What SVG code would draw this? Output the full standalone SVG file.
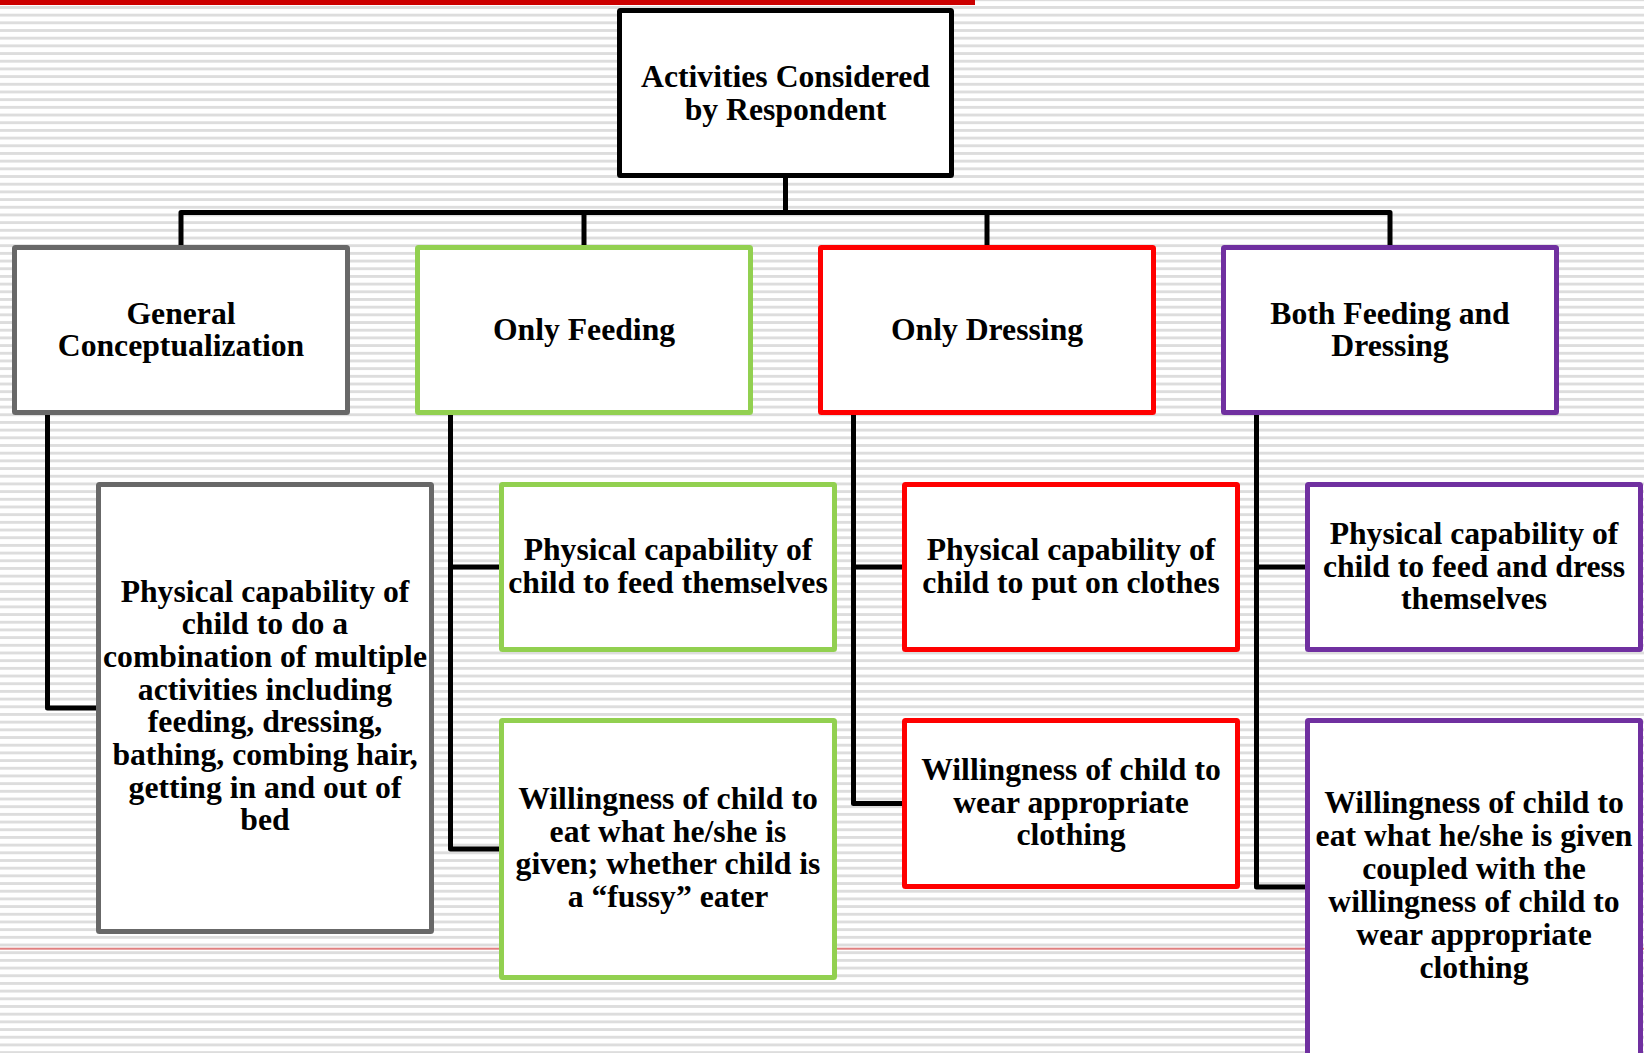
<svg xmlns="http://www.w3.org/2000/svg" width="1644" height="1053" viewBox="0 0 1644 1053">
<defs>
<pattern id="stripes" patternUnits="userSpaceOnUse" x="0" y="6" width="20" height="7.685">
<rect x="0" y="0" width="20" height="2.9" fill="#DDDDDD"/>
</pattern>
<style>
.box{fill:#FFFFFF;stroke-width:5;stroke-linejoin:round}
.gray{stroke:#686868}
.green{stroke:#92D050}
.red{stroke:#FF0000}
.purple{stroke:#7030A0}
.top{stroke:#000000}
.conn{fill:none;stroke:#000000;stroke-width:5;stroke-linejoin:round;stroke-linecap:butt}
text{font-family:"Liberation Serif","Times New Roman",serif;font-weight:bold;font-size:31.7px;fill:#000000;text-anchor:middle}
</style>
</defs>
<rect x="0" y="0" width="1644" height="1053" fill="#FFFFFF"/>
<rect x="0" y="0" width="1644" height="1053" fill="url(#stripes)"/>
<rect x="0" y="0" width="975" height="5" fill="#CC0000"/>
<rect x="0" y="947.7" width="1644" height="2" fill="#E08080"/>
<g id="connectors">
<path class="conn" d="M785.5,178 V212.5"/>
<path class="conn" d="M181,245 V212.5 H1390 V245"/>
<path class="conn" d="M584,212.5 V245"/>
<path class="conn" d="M987,212.5 V245"/>
<path class="conn" d="M47.5,415 V708 H96"/>
<path class="conn" d="M450.5,415 V849 H499"/>
<path class="conn" d="M450.5,567 H499"/>
<path class="conn" d="M853.5,415 V803.5 H902"/>
<path class="conn" d="M853.5,567 H902"/>
<path class="conn" d="M1256.5,415 V887 H1305"/>
<path class="conn" d="M1256.5,567 H1305"/>
</g>
<g id="root">
<rect class="box top" x="619.5" y="10.5" width="332" height="165" rx="1"/>
<text x="785.5" y="87.3">Activities Considered</text>
<text x="785.5" y="119.5">by Respondent</text>
</g>
<g id="general">
<rect class="box gray" x="14.5" y="247.5" width="333" height="165" rx="1"/>
<text x="181" y="323.5">General</text>
<text x="181" y="356.2">Conceptualization</text>
</g>
<g id="only-feeding">
<rect class="box green" x="417.5" y="247.5" width="333" height="165" rx="1"/>
<text x="584" y="340">Only Feeding</text>
</g>
<g id="only-dressing">
<rect class="box red" x="820.5" y="247.5" width="333" height="165" rx="1"/>
<text x="987" y="340">Only Dressing</text>
</g>
<g id="both">
<rect class="box purple" x="1223.5" y="247.5" width="333" height="165" rx="1"/>
<text x="1390" y="323.5">Both Feeding and</text>
<text x="1390" y="356.2">Dressing</text>
</g>
<g id="general-detail">
<rect class="box gray" x="98.5" y="484.5" width="333" height="447" rx="1"/>
<text x="265" y="601.7">Physical capability of</text>
<text x="265" y="634.3">child to do a</text>
<text x="265" y="667">combination of multiple</text>
<text x="265" y="699.6">activities including</text>
<text x="265" y="732.3">feeding, dressing,</text>
<text x="265" y="764.9">bathing, combing hair,</text>
<text x="265" y="797.6">getting in and out of</text>
<text x="265" y="830.2">bed</text>
</g>
<g id="feeding-physical">
<rect class="box green" x="501.5" y="484.5" width="333" height="165" rx="1"/>
<text x="668" y="560.2">Physical capability of</text>
<text x="668" y="592.9">child to feed themselves</text>
</g>
<g id="feeding-willingness">
<rect class="box green" x="501.5" y="720.5" width="333" height="257" rx="1"/>
<text x="668" y="809">Willingness of child to</text>
<text x="668" y="841.7">eat what he/she is</text>
<text x="668" y="874.3">given; whether child is</text>
<text x="668" y="907">a “fussy” eater</text>
</g>
<g id="dressing-physical">
<rect class="box red" x="904.5" y="484.5" width="333" height="165" rx="1"/>
<text x="1071" y="560.2">Physical capability of</text>
<text x="1071" y="592.9">child to put on clothes</text>
</g>
<g id="dressing-willingness">
<rect class="box red" x="904.5" y="720.5" width="333" height="166" rx="1"/>
<text x="1071" y="780">Willingness of child to</text>
<text x="1071" y="812.7">wear appropriate</text>
<text x="1071" y="845.3">clothing</text>
</g>
<g id="both-physical">
<rect class="box purple" x="1307.5" y="484.5" width="333" height="165" rx="1"/>
<text x="1474" y="543.9">Physical capability of</text>
<text x="1474" y="576.6">child to feed and dress</text>
<text x="1474" y="609.2">themselves</text>
</g>
<g id="both-willingness">
<rect class="box purple" x="1307.5" y="720.5" width="333" height="340" rx="1"/>
<text x="1474" y="813.3">Willingness of child to</text>
<text x="1474" y="846.3">eat what he/she is given</text>
<text x="1474" y="879.3">coupled with the</text>
<text x="1474" y="912.3">willingness of child to</text>
<text x="1474" y="945.3">wear appropriate</text>
<text x="1474" y="978.3">clothing</text>
</g>
</svg>
